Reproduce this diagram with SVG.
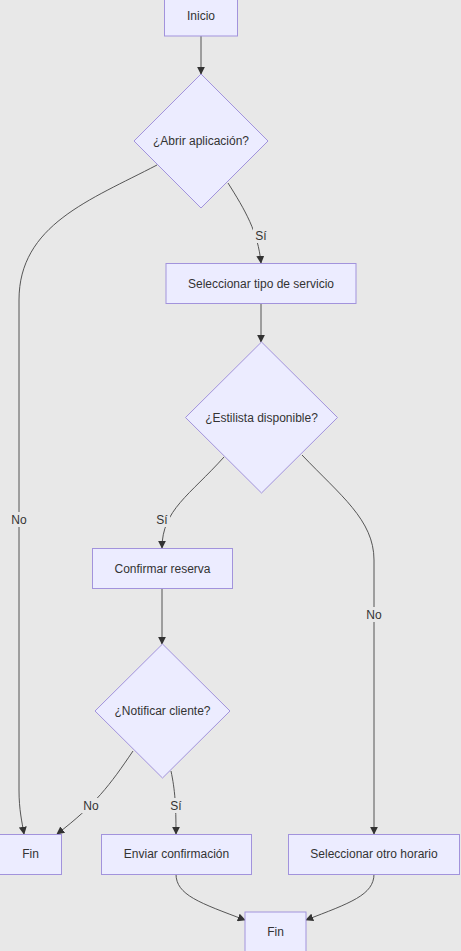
<svg xmlns="http://www.w3.org/2000/svg" width="461" height="951" viewBox="0 0 461 951">
<defs>
<marker id="arr" viewBox="0 0 10 10" refX="9" refY="5" markerWidth="8" markerHeight="8" markerUnits="userSpaceOnUse" orient="auto">
<path d="M0,0 L10,5 L0,10 z" fill="#333"/>
</marker>
</defs>
<style>
.node{fill:#ECECFF;stroke:#a293dc;stroke-width:1}
.t{font-family:"Liberation Sans",Arial,sans-serif;font-size:12px;fill:#333;text-anchor:middle;dominant-baseline:central}
.e{fill:none;stroke:#444;stroke-width:0.9;marker-end:url(#arr)}
.lb{fill:#e8e8e8}
</style>
<rect width="461" height="951" fill="#e8e8e8"/>
<g id="edges">
<path class="e" d="M201,36 L201,74"/>
<path class="e" d="M228,183 C245,210 258,232 261,263"/>
<path class="e" d="M157,165 C90,200 19,225 19,300 L19,790 C19,810 22,822 24,834"/>
<path class="e" d="M261,304 L261,342"/>
<path class="e" d="M224,457 C190,495 162,510 162,548"/>
<path class="e" d="M302,455 C340,495 374,520 374,560 L374,834"/>
<path class="e" d="M162,588 L162,644"/>
<path class="e" d="M133,751 C110,785 95,805 57,834"/>
<path class="e" d="M171,771 C175,790 176,805 176,834"/>
<path class="e" d="M176,874 C176,895 200,903 245,920"/>
<path class="e" d="M374,874 C374,895 350,903 306,920"/>
</g>
<g id="edge-labels">
<rect class="lb" x="253" y="228" width="16" height="15"/><text class="t" x="261" y="236">Sí</text>
<rect class="lb" x="9" y="512" width="20" height="15"/><text class="t" x="19" y="520">No</text>
<rect class="lb" x="154" y="512" width="16" height="15"/><text class="t" x="162" y="520">Sí</text>
<rect class="lb" x="364" y="607" width="20" height="15"/><text class="t" x="374" y="615">No</text>
<rect class="lb" x="81" y="798" width="20" height="15"/><text class="t" x="91" y="806">No</text>
<rect class="lb" x="168" y="798" width="16" height="15"/><text class="t" x="176" y="806">Sí</text>
</g>
<g id="inicio"><rect class="node" x="164.5" y="-4" width="73" height="40"/><text class="t" x="201" y="16">Inicio</text></g>
<g id="abrir"><polygon class="node" points="201,74 268,141 201,208 134,141"/><text class="t" x="201" y="141">¿Abrir aplicación?</text></g>
<g id="servicio"><rect class="node" x="166" y="263.5" width="190" height="40"/><text class="t" x="261" y="283.5">Seleccionar tipo de servicio</text></g>
<g id="estilista"><polygon class="node" points="261.5,342 337.5,417.5 261.5,493 185.5,417.5"/><text class="t" x="261.5" y="417.5">¿Estilista disponible?</text></g>
<g id="confirmar"><rect class="node" x="92.5" y="548.5" width="140" height="40"/><text class="t" x="162.5" y="568.5">Confirmar reserva</text></g>
<g id="notificar"><polygon class="node" points="162.5,644 230,711 162.5,778 95,711"/><text class="t" x="162.5" y="711">¿Notificar cliente?</text></g>
<g id="fin1"><rect class="node" x="-0.5" y="834.5" width="62" height="40"/><text class="t" x="30.5" y="854">Fin</text></g>
<g id="enviar"><rect class="node" x="101.5" y="834.5" width="150" height="40"/><text class="t" x="176.5" y="854">Enviar confirmación</text></g>
<g id="otro"><rect class="node" x="288.5" y="834.5" width="171" height="40"/><text class="t" x="374" y="854">Seleccionar otro horario</text></g>
<g id="fin2"><rect class="node" x="245" y="912" width="61" height="40"/><text class="t" x="275.5" y="932">Fin</text></g>
</svg>
